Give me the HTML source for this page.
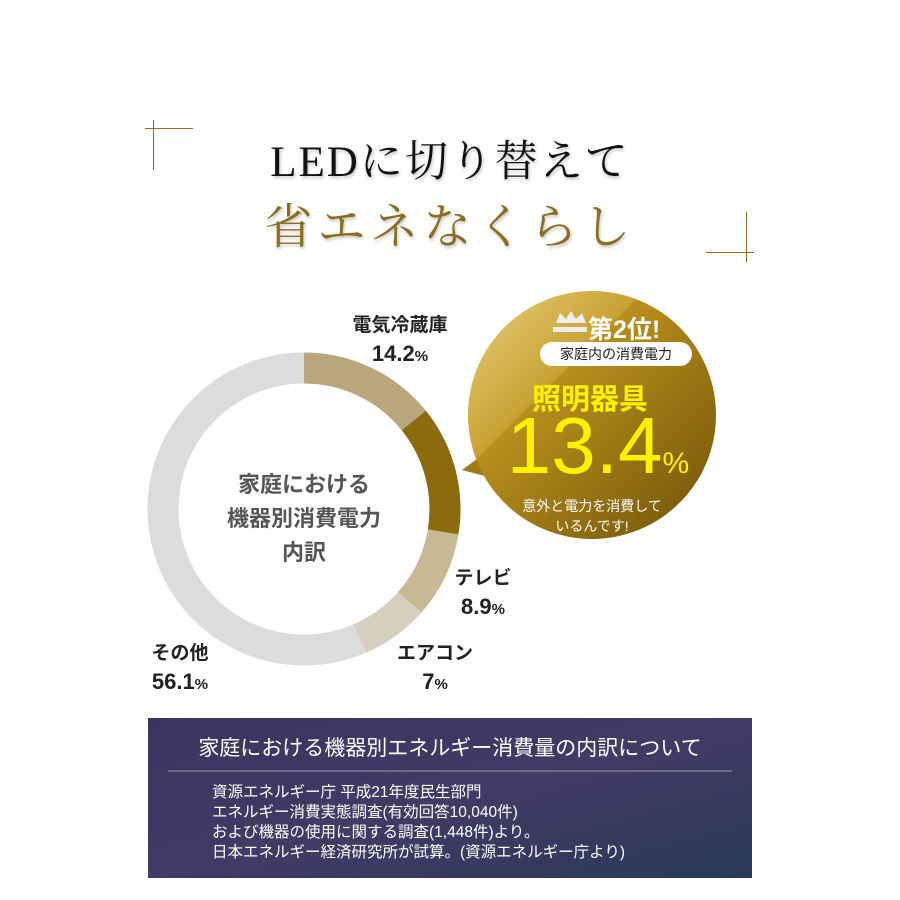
<!DOCTYPE html>
<html><head><meta charset="utf-8"><style>
html,body{margin:0;padding:0;background:#fff;}
body{width:900px;height:900px;position:relative;overflow:hidden;font-family:"Liberation Sans","Noto Sans CJK JP",sans-serif;}
.abs{position:absolute;}
.t1{left:0;width:900px;top:128px;text-align:center;font-family:"Liberation Serif","Noto Serif CJK SC",serif;font-size:43px;color:#111;letter-spacing:2px;text-shadow:1px 2px 3px rgba(0,0,0,0.25);}
.t2{left:0;width:900px;top:188px;text-align:center;font-family:"Liberation Serif","Noto Serif CJK SC",serif;font-size:48px;color:#8a6d1f;letter-spacing:5px;text-shadow:1px 2px 3px rgba(0,0,0,0.25);}
.lbl{font-weight:bold;color:#222;text-align:center;font-size:19px;line-height:28px;}
.pct{font-size:22px;}
.pct small{font-size:15px;}
</style></head><body>
<div class="abs" style="left:145px;top:128px;width:48px;height:1px;background:#8a6d1f"></div>
<div class="abs" style="left:153px;top:120px;width:1px;height:50px;background:#8a6d1f"></div>
<div class="abs" style="left:706px;top:252px;width:48px;height:1px;background:#8a6d1f"></div>
<div class="abs" style="left:746px;top:212px;width:1px;height:50px;background:#8a6d1f"></div>
<div class="abs t1">LEDに切り替えて</div>
<div class="abs t2">省エネなくらし</div>

<svg class="abs" style="left:0;top:0" width="900" height="900">
<defs>
<linearGradient id="g" x1="0" y1="0" x2="1" y2="1">
<stop offset="0" stop-color="#e8cf7a"/><stop offset="0.35" stop-color="#c9a234"/><stop offset="0.36" stop-color="#b88e1c"/><stop offset="1" stop-color="#6e5206"/>
</linearGradient>
<linearGradient id="p" x1="0" y1="0" x2="1" y2="1">
<stop offset="0" stop-color="#3a3560"/><stop offset="0.5" stop-color="#433a66"/><stop offset="1" stop-color="#283a58"/>
</linearGradient>
</defs>
<g transform="rotate(-90 304 509)" fill="none" stroke-width="31">
<circle cx="304" cy="509" r="141" stroke="#dcdcdc"/>
<circle cx="304" cy="509" r="141" stroke="#b9a67d" stroke-dasharray="125.8 1000" stroke-dashoffset="0"/>
<circle cx="304" cy="509" r="141" stroke="#8c6a0e" stroke-dasharray="118.7 1000" stroke-dashoffset="-125.8"/>
<circle cx="304" cy="509" r="141" stroke="#c7b993" stroke-dasharray="78.8 1000" stroke-dashoffset="-244.5"/>
<circle cx="304" cy="509" r="141" stroke="#d7cfbe" stroke-dasharray="62 1000" stroke-dashoffset="-323.3"/>
</g>
<path d="M462 470 L492 448 L500 480 Z" fill="#9c7a18"/>
<circle cx="592" cy="415" r="124" fill="url(#g)"/>
<rect x="148" y="718" width="604" height="160" fill="url(#p)"/>
<line x1="168" y1="771" x2="732" y2="771" stroke="#9a98b0" stroke-width="1"/>
<path d="M556 323 L560 313 L566 319 L571 311 L576 319 L582 313 L586 323 Z" fill="#eee"/>
<rect x="553" y="327" width="34" height="5" fill="#eee"/>
<rect x="540" y="342" width="152" height="24" rx="12" fill="#fff"/>
</svg>
<div class="abs" style="left:588px;top:310px;font-size:25px;font-weight:bold;color:#fff;">第2位!</div>
<div class="abs" style="left:540px;top:344px;width:152px;text-align:center;font-size:14px;color:#222;">家庭内の消費電力</div>
<div class="abs" style="left:470px;top:376px;width:240px;text-align:center;font-size:29px;font-weight:bold;color:#fff200;">照明器具</div>
<div class="abs" style="left:478px;top:400px;width:240px;text-align:center;font-size:80px;color:#fff200;">13.4<span style="font-size:30px">%</span></div>
<div class="abs" style="left:472px;top:496px;width:240px;text-align:center;font-size:14px;line-height:20px;color:#fff;">意外と電力を消費して<br>いるんです!</div>

<div class="abs" style="left:204px;top:468px;width:200px;text-align:center;font-size:22px;font-weight:bold;color:#555;line-height:34px;">家庭における<br>機器別消費電力<br>内訳</div>
<div class="abs lbl" style="left:330px;top:312px;width:140px;">電気冷蔵庫<br><span class="pct">14.2<small>%</small></span></div>
<div class="abs lbl" style="left:443px;top:565px;width:80px;">テレビ<br><span class="pct">8.9<small>%</small></span></div>
<div class="abs lbl" style="left:385px;top:640px;width:100px;">エアコン<br><span class="pct">7<small>%</small></span></div>
<div class="abs lbl" style="left:140px;top:640px;width:80px;">その他<br><span class="pct">56.1<small>%</small></span></div>

<div class="abs" style="left:148px;top:732px;width:604px;text-align:center;font-size:21px;color:#fff;">家庭における機器別エネルギー消費量の内訳について</div>
<div class="abs" style="left:212px;top:783px;font-size:15.5px;line-height:20px;color:#fff;">資源エネルギー庁 平成21年度民生部門<br>エネルギー消費実態調査(有効回答10,040件)<br>および機器の使用に関する調査(1,448件)より。<br>日本エネルギー経済研究所が試算。(資源エネルギー庁より)</div>
</body></html>
